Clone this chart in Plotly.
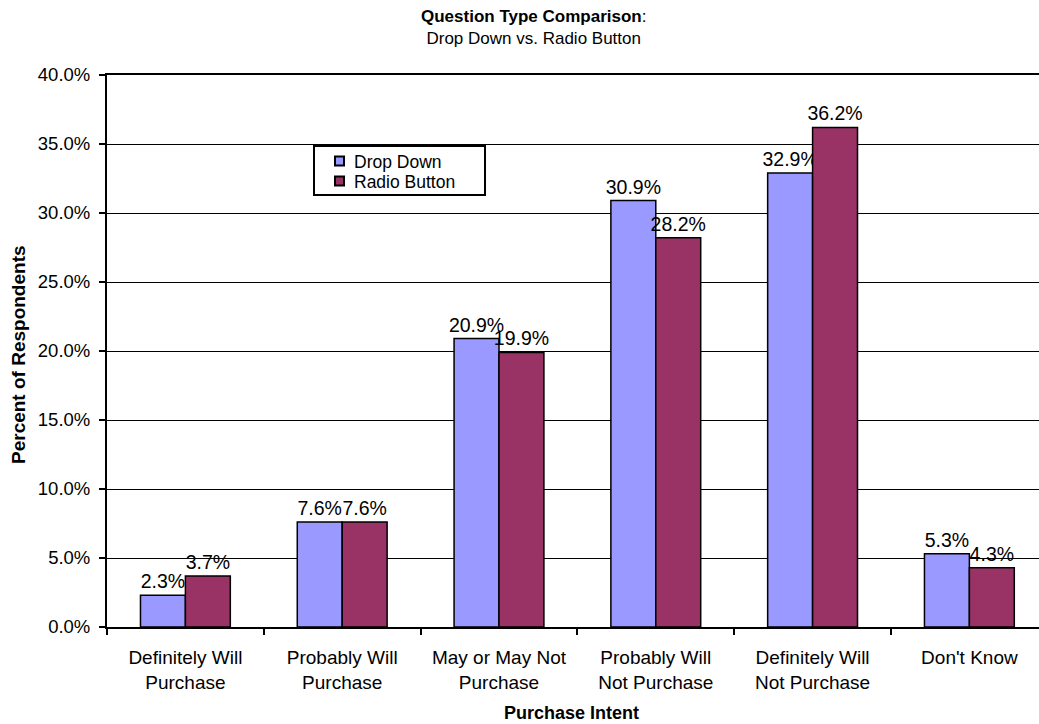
import plotly.graph_objects as go

# Purchase intent categories and the share of respondents per question type
categories = [
    "Definitely Will<br>Purchase",
    "Probably Will<br>Purchase",
    "May or May Not<br>Purchase",
    "Probably Will<br>Not Purchase",
    "Definitely Will<br>Not Purchase",
    "Don't Know",
]
series_names = ["Drop Down", "Radio Button"]
drop_down = [2.3, 7.6, 20.9, 30.9, 32.9, 5.3]
radio_button = [3.7, 7.6, 19.9, 28.2, 36.2, 4.3]
y_ticks = [0, 5, 10, 15, 20, 25, 30, 35, 40]

FONT = "Arial, Liberation Sans, sans-serif"
COLORS = ["#9999FF", "#993366"]

fig = go.Figure()
for name, vals, color in zip(series_names, [drop_down, radio_button], COLORS):
    fig.add_trace(go.Bar(
        name=name,
        x=categories,
        y=vals,
        marker=dict(color=color, line=dict(color="black", width=1.5)),
        text=[f"{v:.1f}%" for v in vals],
        textposition="outside",
        textfont=dict(family=FONT, size=19.5, color="black"),
        constraintext="none",
        cliponaxis=False,
        showlegend=False,
    ))

# Compact boxed legend placed inside the plot area (paper coordinates)
plot_l, plot_w, plot_b, plot_h = 107, 932, 627, 552


def px_x(v):
    return (v - plot_l) / plot_w


def px_y(v):
    return (plot_b - v) / plot_h


shapes = [dict(
    type="rect", xref="paper", yref="paper",
    x0=px_x(314), x1=px_x(485), y0=px_y(195), y1=px_y(146),
    line=dict(color="black", width=2), fillcolor="white", layer="above",
)]
annotations = []
for i, (name, color) in enumerate(zip(series_names, COLORS)):
    cy = 161 + 20 * i
    shapes.append(dict(
        type="rect", xref="paper", yref="paper",
        x0=px_x(335), x1=px_x(344), y0=px_y(cy + 4.5), y1=px_y(cy - 4.5),
        line=dict(color="black", width=2), fillcolor=color, layer="above",
    ))
    annotations.append(dict(
        text=name, xref="paper", yref="paper", x=px_x(352), y=px_y(cy + 1),
        xanchor="left", yanchor="middle", showarrow=False,
        font=dict(family=FONT, size=17.5, color="black"),
    ))

annotations += [
    dict(
        text="<b>Question Type Comparison</b>:<br>Drop Down vs. Radio Button",
        xref="paper", yref="paper", x=px_x(533), y=1.0,
        yshift=70, xanchor="center", yanchor="top",
        showarrow=False, font=dict(family=FONT, size=17, color="black"),
    ),
    dict(
        text="<b>Percent of Respondents</b>",
        xref="paper", yref="paper", x=0, y=px_y(355), xshift=-89,
        textangle=-90, xanchor="center", yanchor="middle",
        showarrow=False, font=dict(family=FONT, size=19, color="black"),
    ),
    dict(
        text="<b>Purchase Intent</b>",
        xref="paper", yref="paper", x=px_x(571), y=0, yshift=-86,
        xanchor="center", yanchor="middle",
        showarrow=False, font=dict(family=FONT, size=18, color="black"),
    ),
]

fig.update_layout(
    width=1039,
    height=724,
    margin=dict(l=plot_l, r=0, t=75, b=97),
    paper_bgcolor="white",
    plot_bgcolor="white",
    barmode="group",
    bargap=0.427,
    bargroupgap=0,
    font=dict(family=FONT, color="black"),
    showlegend=False,
    shapes=shapes,
    annotations=annotations,
)

fig.update_xaxes(
    type="category",
    range=[-0.5, 5.444],
    showgrid=False,
    showline=True, linecolor="black", linewidth=2,
    mirror=True,
    ticks="outside", tickson="boundaries", ticklen=6, tickwidth=2, tickcolor="black",
    ticklabelstandoff=12,
    tickfont=dict(family=FONT, size=19, color="black"),
)
fig.update_yaxes(
    range=[0, 40],
    tickvals=y_ticks,
    ticktext=[f"{t:.1f}%" for t in y_ticks],
    showgrid=True, gridcolor="black", gridwidth=1,
    zeroline=False,
    showline=True, linecolor="black", linewidth=2,
    ticks="outside", ticklen=6, tickwidth=2, tickcolor="black",
    ticklabelstandoff=5,
    tickfont=dict(family=FONT, size=18.5, color="black"),
)

fig.write_html("out.html")
